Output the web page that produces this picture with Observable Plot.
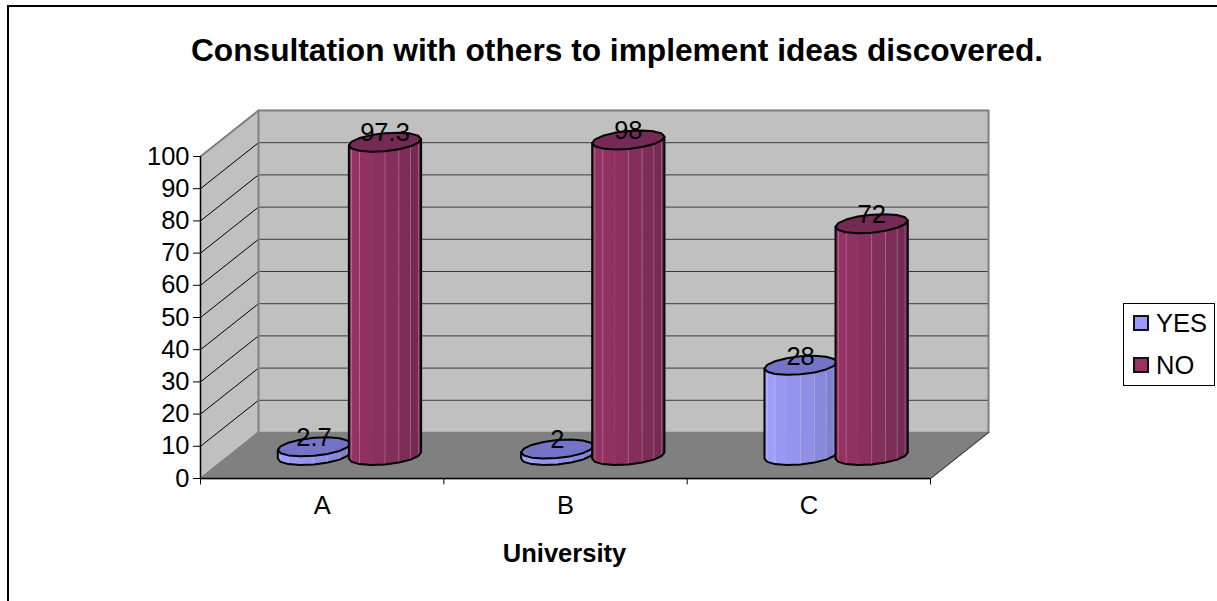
<!DOCTYPE html>
<html>
<head>
<meta charset="utf-8">
<script src="https://cdn.jsdelivr.net/npm/d3@7"></script>
<script src="https://cdn.jsdelivr.net/npm/@observablehq/plot@0.6"></script>
<style>
  html, body { margin: 0; padding: 0; background: #fff; }
  #page { position: relative; width: 1217px; height: 601px; overflow: hidden; font-family: "Liberation Sans", Arial, sans-serif; color: #000; }
  #frame { position: absolute; left: 7px; top: 5px; width: 1300px; height: 700px; border: 2px solid #000; box-sizing: border-box; }
  #chart { position: absolute; left: 0; top: 0; }
  #chart svg { background: transparent; }
  #title { position: absolute; left: 8px; width: 1218px; top: 33px; text-align: center; font-weight: bold; font-size: 31.7px; line-height: 34px; white-space: nowrap; }
  #legend { position: absolute; left: 1123px; top: 303px; width: 92px; height: 83px; border: 1px solid #000; box-sizing: border-box; background: #fff; }
  .entry { position: absolute; left: 9px; display: flex; align-items: center; font-size: 25.5px; line-height: 28px; }
  .swatch { width: 12px; height: 12px; border: 2px solid #111; margin-right: 7px; box-sizing: content-box; }
</style>
</head>
<body>
<div id="page">
  <div id="frame"></div>
  <div id="chart"></div>
  <div id="title">Consultation with others to implement ideas discovered.</div>
  <div id="legend"></div>
</div>
<script>
// Survey answers per university, in percent.
const universities = ["A", "B", "C"];
const yesValues = [2.7, 2, 28];
const noValues = [97.3, 98, 72];
const seriesNames = ["YES", "NO"];
const valueTicks = d3.range(0, 101, 10);

// Chart colours.
const bodyColors = {
  YES: ["#a0a0ff", "#7a7ac4"],
  NO: ["#983364", "#6c2750"]
};
const capColors = { YES: "#7474c6", NO: "#742a54" };
const swatchColors = { YES: "#9999ff", NO: "#993366" };

// Oblique depth of the box, in axis units.
const depthX = 58 / 243.33;
const depthY = 46 / 3.22;

// Cylinder spacing and footprint: half-widths along the category axis and along the depth axis.
const barOffset = 0.146;
const barShift = -0.007;
const barHalf = 0.14;
const radiusDepth = 0.207;
const sides = 16;
const skew = Math.atan2(radiusDepth * depthX, barHalf);

const ringPoint = (center, value, t) => ({
  x: center + 0.5 * depthX + barHalf * Math.cos(t) + radiusDepth * depthX * Math.sin(t),
  y: value + 0.5 * depthY + radiusDepth * depthY * Math.sin(t)
});

// Angles along the front half of the ring, left extreme to right extreme.
const frontAngles = d3.range(0, sides / 2 + 1).map((k) => Math.PI + skew + (k * 2 * Math.PI) / sides);

function cylinderMarks(center, value, series) {
  const mix = d3.interpolateRgb(bodyColors[series][0], bodyColors[series][1]);
  const faces = d3.pairs(frontAngles).map(([t0, t1], i) => ({
    pts: [ringPoint(center, 0, t0), ringPoint(center, 0, t1), ringPoint(center, value, t1), ringPoint(center, value, t0)],
    color: mix(Math.pow(i / (sides / 2 - 1), 1.4))
  }));
  const seams = frontAngles.slice(1, -1).filter((_, i) => i !== 2).map((t) => [ringPoint(center, 0, t), ringPoint(center, value, t)]);
  const outline = [
    ...frontAngles.map((t) => ringPoint(center, 0, t)),
    ringPoint(center, value, frontAngles[frontAngles.length - 1]),
    ringPoint(center, value, frontAngles[0]),
    ringPoint(center, 0, frontAngles[0])
  ];
  const cap = d3.range(0, sides + 1).map((k) => ringPoint(center, value, skew + (k * 2 * Math.PI) / sides));
  return [
    ...faces.map((f) => Plot.line(f.pts, { x: "x", y: "y", fill: f.color, stroke: f.color, strokeWidth: 0.5 })),
    ...seams.map((s) => Plot.line(s, { x: "x", y: "y", stroke: "#fff", strokeOpacity: 0.22, strokeWidth: 1 })),
    Plot.line(outline, { x: "x", y: "y", stroke: "#000", strokeWidth: 2, strokeLinejoin: "round" }),
    Plot.line(cap, { x: "x", y: "y", fill: capColors[series], stroke: "#000", strokeWidth: 2, strokeLinejoin: "round" })
  ];
}

const bars = universities.flatMap((name, i) => [
  { center: i + 0.5 - barOffset + barShift, value: yesValues[i], series: "YES" },
  { center: i + 0.5 + barOffset + barShift, value: noValues[i], series: "NO" }
]);

const xMax = universities.length;
const wallBack = [{ x: depthX, y: depthY }, { x: xMax + depthX, y: depthY }, { x: xMax + depthX, y: 100 + depthY }, { x: depthX, y: 100 + depthY }];
const wallSide = [{ x: 0, y: 0 }, { x: depthX, y: depthY }, { x: depthX, y: 100 + depthY }, { x: 0, y: 100 }];
const floor = [{ x: 0, y: 0 }, { x: xMax, y: 0 }, { x: xMax + depthX, y: depthY }, { x: depthX, y: depthY }];

const gridLines = valueTicks.slice(1);

const plot = Plot.plot({
  width: 1217,
  height: 601,
  marginLeft: 200,
  marginRight: 287,
  marginTop: 156,
  marginBottom: 123,
  style: { background: "transparent", fontFamily: "'Liberation Sans', Arial, sans-serif", color: "#000", overflow: "visible" },
  x: { domain: [0, xMax] },
  y: { domain: [0, 100] },
  marks: [
    // Box: back wall, side wall and floor.
    Plot.line(wallBack, { x: "x", y: "y", fill: "#c0c0c0", stroke: "#c0c0c0" }),
    Plot.line(wallSide, { x: "x", y: "y", fill: "#c0c0c0", stroke: "#c0c0c0" }),
    Plot.line(floor, { x: "x", y: "y", fill: "#808080", stroke: "#808080" }),
    // Gridlines wrap from the side wall on to the back wall.
    ...gridLines.map((v) => Plot.line([{ x: depthX, y: v + depthY }, { x: xMax + depthX, y: v + depthY }], { x: "x", y: "y", stroke: "#3c3c3c", strokeWidth: 1 })),
    ...gridLines.slice(0, -1).map((v) => Plot.line([{ x: 0, y: v }, { x: depthX, y: v + depthY }], { x: "x", y: "y", stroke: "#000", strokeWidth: 1 })),
    // Wall edges.
    Plot.line([{ x: 0, y: 100 }, { x: depthX, y: 100 + depthY }, { x: xMax + depthX, y: 100 + depthY }, { x: xMax + depthX, y: depthY }], { x: "x", y: "y", stroke: "#808080", strokeWidth: 2 }),
    Plot.line([{ x: depthX, y: 100 + depthY }, { x: depthX, y: depthY }, { x: 0, y: 0 }], { x: "x", y: "y", stroke: "#808080", strokeWidth: 2 }),
    Plot.line([{ x: xMax, y: 0 }, { x: xMax + depthX, y: depthY }], { x: "x", y: "y", stroke: "#333", strokeWidth: 1 }),
    // Axes.
    Plot.ruleX([0], { y1: 0, y2: 100, stroke: "#000", strokeWidth: 1.5 }),
    Plot.ruleY([0], { x1: 0, x2: xMax, stroke: "#000", strokeWidth: 1.5 }),
    Plot.axisY({ ticks: valueTicks, tickSize: 7, tickPadding: 4, fontSize: 25.5, label: null, stroke: "#000" }),
    Plot.ruleX(d3.range(0, xMax + 1), { y1: 0, y2: -2, stroke: "#000", strokeWidth: 1 }),
    Plot.axisX({
      ticks: universities.map((_, i) => i + 0.5),
      tickFormat: (d) => universities[Math.floor(d)],
      tickSize: 0,
      tickPadding: 17,
      fontSize: 25.5,
      label: null
    }),
    Plot.text(["University"], { x: xMax / 2, y: 0, dy: 75, dx: -1, text: (d) => d, fontSize: 25.5, fontWeight: "bold", fill: "#000" }),
    // Cylinders, back to front.
    ...bars.flatMap((b) => cylinderMarks(b.center, b.value, b.series)),
    // Value labels above each cap.
    Plot.text(bars, {
      x: (d) => d.center + 0.5 * depthX,
      y: (d) => d.value + 0.5 * depthY,
      text: (d) => String(d.value),
      dy: -9,
      fontSize: 25.5,
      fill: "#000"
    })
  ]
});
document.getElementById("chart").append(plot);

// Legend entries.
const legend = document.getElementById("legend");
seriesNames.forEach((name, i) => {
  const entry = document.createElement("div");
  entry.className = "entry";
  entry.style.top = (i === 0 ? 5 : 47) + "px";
  const swatch = document.createElement("span");
  swatch.className = "swatch";
  swatch.style.background = swatchColors[name];
  entry.append(swatch, document.createTextNode(name));
  legend.append(entry);
});
</script>
</body>
</html>
